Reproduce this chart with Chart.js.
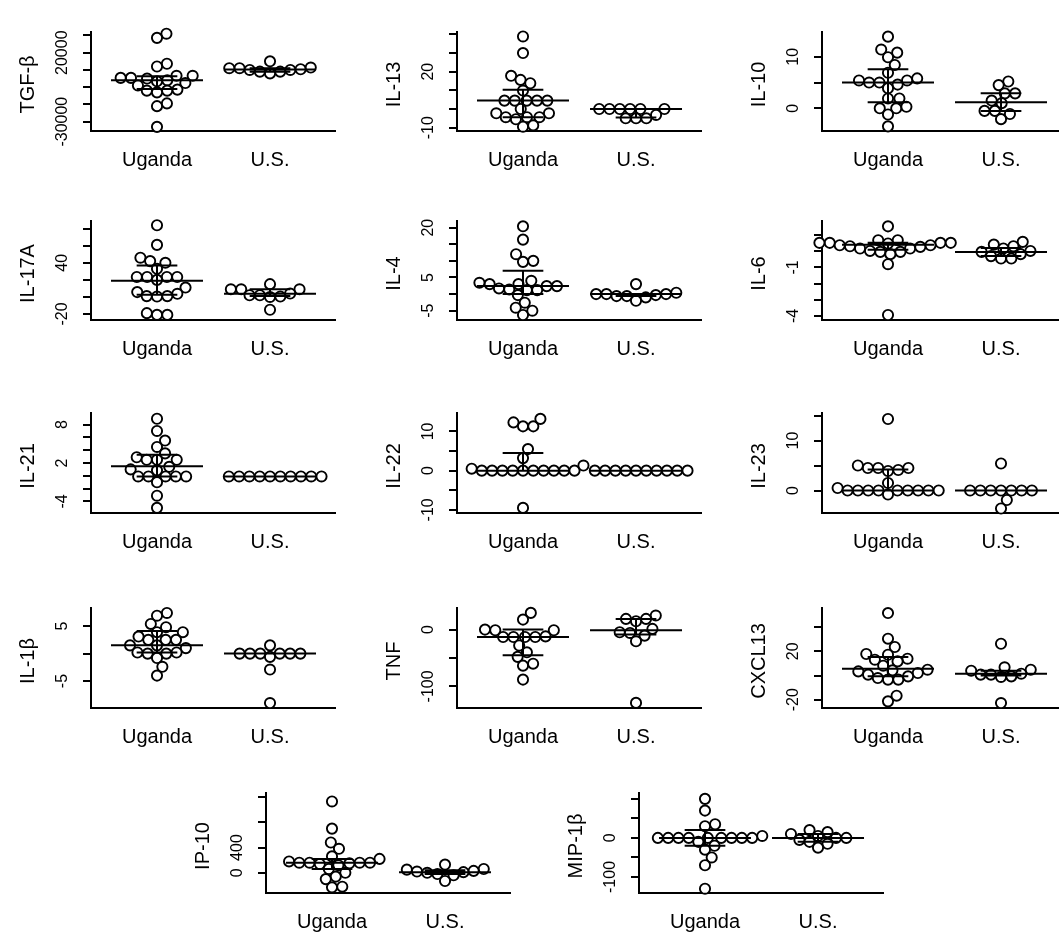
<!DOCTYPE html>
<html>
<head>
<meta charset="utf-8">
<script src="https://cdn.jsdelivr.net/npm/chart.js@4.4.0/dist/chart.umd.min.js"></script>
<style>
  html, body { margin: 0; padding: 0; background: #fff; }
  #page { position: relative; width: 1059px; height: 933px; overflow: hidden; }
  #page canvas { position: absolute; }
</style>
</head>
<body>
<div id="page"></div>
<script>
const groups = ['Uganda', 'U.S.'];
const cytokines = ['TGF-β', 'IL-13', 'IL-10', 'IL-17A', 'IL-4', 'IL-6', 'IL-21',
                   'IL-22', 'IL-23', 'IL-1β', 'TNF', 'CXCL13', 'IP-10', 'MIP-1β'];

// values, one array per group and cytokine
const tgfUganda = [33750, 30750, 12000, 10000, 3250, 3250, 1750, 1750, 1250, 0, -750, -2000,
                   -3750, -6750, -7500, -7500, -8750, -16750, -18750, -33750];
const tgfUS = [8750, 8750, 7500, 6250, 13750, 5000, 6250, 7500, 8000, 9250];
const il13Uganda = [38.9, 30, 17.8, 15.6, 13.8, 9.9, 4.5, 4.5, 4.5, 4.5, 4.5, 0, -2.3, -2.3,
                    -4.4, -4.4, -5.5, -4.4, -9.5, -8.8];
const il13US = [0, 0, 0, 0, 0, 0, -5, -5, -5, -3.2];
const il10Uganda = [13.9, 11.4, 10.8, 9.9, 8.4, 6.9, 5.8, 5.4, 5.0, 5.0, 5.4, 4.6, 3.9, 1.9,
                    1.9, 0, 0, 0.3, -1.2, -3.5];
const il10US = [5.2, 4.5, 2.9, 2.9, 1.5, 1.0, -0.5, -0.5, -1.1, -2.1];
const il17Uganda = [84, 61, 46, 42, 40, 33, 23.4, 23.4, 23.4, 23.4, 20, 11, 5.7, 1, 0.5, 1,
                    3.7, -19, -21, -21];
const il17US = [15, 9, 9, 9, 4, 2, 0, 2, 0.5, -15];
const il4Uganda = [20.4, 16.4, 12, 10, 9.7, 4, 3, 3, 2.4, 1.2, 1.4, 1.7, 2.4, 3.4, -0.3, -2.6,
                   -4.1, -6.3, -5, 1.2];
const il4US = [3, 0, 0, -0.6, -0.6, -2, -1, -0.3, 0, 0.4];
const il6Uganda = [1.54, 0.52, 0.48, 0.37, 0.17, 0.17, 0.68, 0.52, 0.52, 0.31, 0.27, 0.37,
                   0.52, 0.68, -0.04, -0.04, 0.02, -0.18, -0.8, -3.94];
const il6US = [0.58, 0.41, 0.31, 0.17, -0.04, 0.02, -0.3, -0.45, -0.45, -0.18];
const il21Uganda = [8.9, 7, 5.5, 4.5, 3.5, 2.9, 2.5, 2.5, 2.5, 1.4, 1.0, 0.85, -0.1, -0.1,
                    -0.1, -0.1, -0.1, -1.0, -3.1, -5];
const il21US = [-0.1, -0.1, -0.1, -0.1, -0.1, -0.1, -0.1, -0.1, -0.1, -0.1];
const il22Uganda = [12.3, 11.3, 11.3, 13.2, 5.5, 3.2, 0.5, 0, 0, 0, 0, 0, 0, 0, 0, 0, 0, 1.3, -9.5];
const il22US = [0, 0, 0, 0, 0, 0, 0, 0, 0, 0];
const il23Uganda = [14.3, 4.5, 4.5, 4.1, 3.9, 4.5, 5.0, 1.5, 0.5, 0, 0, 0, 0, 0, 0, 0, 0, 0, -0.8];
const il23US = [5.4, 0, 0, 0, 0, 0, 0, 0, -1.9, -3.6];
const il1bUganda = [7.4, 6.9, 5.4, 4.8, 3.9, 3.9, 2.5, 2.5, 2.5, 3.1, 1.5, 1.5, 1.0, 0.2, 0.2,
                    0, 0, -0.8, -2.4, -4];
const il1bUS = [1.5, 0, 0, 0, 0, 0, 0, -0.6, -2.9, -9];
const tnfUganda = [29.4, 17.6, -1.2, 0, -1.2, -13, -13, -13, -13, -12, -28, -40, -48, -63.5, -60, -88];
const tnfUS = [24.7, 18.8, 18.8, 14.7, 1.2, -4.7, -5.9, -10.6, -20.6, -129];
const cxclUganda = [51.7, 30.5, 23.6, 17.2, 13.9, 17.8, 13.1, 11.7, 8.1, 3.4, 0.7, 4.3, 4.8, 2.1,
                    -3.4, -3.4, -2.1, -0.7, -21.4, -16.7];
const cxclUS = [26.3, 4, 4.8, 6.8, 0.7, 0.7, -0.7, 1.5, -1.2, -22.8];
const ip10Uganda = [1130, 700, 480, 380, 260, 220, 180, 160, 160, 160, 160, 150, 140, 120, 60, 0,
                    -60, -100, -220, -230];
const ip10US = [130, 60, 50, 30, 20, 10, 0, -20, -40, -130];
const mipUganda = [100, 70, 35, 30, 5, 0, 0, 0, 0, 0, 0, 0, 0, 0, -10, -20, -30, -50, -70, -130];
const mipUS = [20, 15, 10, 5, 0, 0, -5, -10, -15, -25];

// long bar = median, short bars = quartiles
const ugandaMedian = [0, 4.5, 5.0, 19, 2.4, 0.4, 1.5, 0, 0, 1.5, -13, 5.7, 160, 0];
const ugandaQ1 = [-6250, -4.4, 1.2, 2.5, 0, 0.1, -0.1, 0, 0, 0.2, -45, -0.7, 60, -20];
const ugandaQ3 = [3000, 10.3, 7.6, 37, 7, 0.52, 3.3, 4.5, 4.2, 4.1, 0, 15.3, 220, 20];
const usMedian = [7750, 0, 1.2, 3.7, 0, -0.04, -0.1, 0, 0, 0, -1.2, 1.5, 10, 0];
const usQ1 = [6250, -4.5, -0.5, 1, -0.6, -0.3, -0.1, 0, 0, 0, -8.8, 0, -20, -10];
const usQ3 = [8750, 0, 2.9, 9, 0, 0.2, -0.1, 0, 0, 0, 18.8, 4, 40, 10];

// y axes
const yMin = [-36750, -11.8, -4.4, -27, -7.8, -4.25, -5.8, -10.8, -4.5, -9.9, -138, -26.9, -320, -141];
const yMax = [35000, 41.3, 14.8, 89, 22, 1.87, 9.8, 14.7, 15.5, 8.3, 38, 55.9, 1264, 115];
const yTicks = [
  [-30000, -17500, -5000, 7500, 20000, 32500], [-10, 0, 10, 20, 30, 40], [0, 5, 10],
  [-20, 0, 20, 40, 60, 80], [-5, 0, 5, 10, 15, 20], [-4, -3, -2, -1, 0, 1],
  [-4, -2, 0, 2, 4, 6, 8], [-10, -5, 0, 5, 10], [0, 5, 10, 15],
  [-5, 0, 5], [-100, -50, 0], [-20, 0, 20, 40], [0, 400, 800, 1200], [-100, -50, 0, 50, 100]
];
const yLabels = [
  [20000, -30000], [20, -10], [10, 0], [40, -20], [20, 5, -5], [-1, -4], [8, 2, -4],
  [10, 0, -10], [10, 0], [5, -5], [0, -100], [20, -20], [400, 0], [0, -100]
];

const ugandaValues = [tgfUganda, il13Uganda, il10Uganda, il17Uganda, il4Uganda, il6Uganda, il21Uganda,
                      il22Uganda, il23Uganda, il1bUganda, tnfUganda, cxclUganda, ip10Uganda, mipUganda];
const usValues = [tgfUS, il13US, il10US, il17US, il4US, il6US, il21US,
                  il22US, il23US, il1bUS, tnfUS, cxclUS, ip10US, mipUS];

// panel placement on the page (left edge of plot, top and bottom of plot)
const rowTop = [32, 221, 413, 608, 793];
const rowBottom = [131, 320, 513, 708, 893];
const panelX = [91, 457, 822, 91, 457, 822, 91, 457, 822, 91, 457, 822, 266, 639];
const panelRow = [0, 0, 0, 1, 1, 1, 2, 2, 2, 3, 3, 3, 4, 4];

const plotWidth = 244;
const leftRoom = 90, topRoom = 10, rightRoom = 8, bottomRoom = 50;
const xMin = 0.416, xMax = 2.575;
const dotDiameter = 10.3;

Chart.defaults.font.family = '"Liberation Sans", Arial, sans-serif';
Chart.defaults.color = '#000';

const axisText = {
  id: 'axisText',
  afterDraw(chart, args, opts) {
    const {ctx, chartArea} = chart;
    const y = chart.scales.y;
    ctx.save();
    ctx.fillStyle = '#000';
    ctx.textAlign = 'center';
    ctx.textBaseline = 'middle';
    ctx.font = '16px "Liberation Sans", Arial, sans-serif';
    opts.labels.forEach(v => {
      ctx.save();
      ctx.translate(chartArea.left - 28, y.getPixelForValue(v));
      ctx.rotate(-Math.PI / 2);
      ctx.fillText(String(v), 0, 0);
      ctx.restore();
    });
    ctx.font = '20px "Liberation Sans", Arial, sans-serif';
    ctx.translate(chartArea.left - 63, (chartArea.top + chartArea.bottom) / 2 + 3);
    ctx.rotate(-Math.PI / 2);
    ctx.fillText(opts.title, 0, 0);
    ctx.restore();
  }
};

// simple swarm: place each value (ascending) at the offset closest to the centre that does not overlap
function swarm(chart, center, values) {
  const xs = chart.scales.x, ys = chart.scales.y;
  const pxPerUnit = xs.getPixelForValue(center + 1) - xs.getPixelForValue(center);
  const order = values.map((v, i) => i).sort((a, b) => values[a] - values[b]);
  const placed = [];
  const out = new Array(values.length);
  const d2 = dotDiameter * dotDiameter;
  order.forEach(i => {
    const py = ys.getPixelForValue(values[i]);
    const cands = [0];
    placed.forEach(p => {
      const dy = Math.abs(p.y - py);
      if (dy < dotDiameter) {
        const dx = Math.sqrt(d2 - dy * dy);
        cands.push(p.x + dx, p.x - dx);
      }
    });
    cands.sort((a, b) => Math.abs(a) - Math.abs(b));
    let best = 0;
    for (const c of cands) {
      if (placed.every(p => (p.x - c) ** 2 + (p.y - py) ** 2 >= d2 - 0.01)) { best = c; break; }
    }
    placed.push({x: best, y: py});
    out[i] = {x: center + best / pxPerUnit, y: values[i]};
  });
  return out;
}

function summaryLines(c, med, q1, q3) {
  return [
    {x: c - 0.407, y: med}, {x: c + 0.407, y: med}, {x: c, y: null},
    {x: c - 0.18, y: q3}, {x: c + 0.18, y: q3}, {x: c, y: null},
    {x: c - 0.18, y: q1}, {x: c + 0.18, y: q1}, {x: c, y: null},
    {x: c, y: q1}, {x: c, y: q3}
  ];
}

function dots(values, center) {
  return {
    data: values.map(v => ({x: center, y: v})),
    pointRadius: 5.1,
    pointBorderWidth: 1.9,
    pointBorderColor: '#000',
    pointBackgroundColor: '#fff',
    clip: false,
    order: 2
  };
}

function bars(data) {
  return {
    data: data,
    showLine: true,
    spanGaps: false,
    pointRadius: 0,
    borderColor: '#000',
    borderWidth: 2,
    clip: false,
    order: 0
  };
}

const page = document.getElementById('page');

cytokines.forEach((name, i) => {
  const r = panelRow[i];
  const h = rowBottom[r] - rowTop[r];
  const canvas = document.createElement('canvas');
  canvas.width = leftRoom + plotWidth + rightRoom;
  canvas.height = topRoom + h + bottomRoom;
  canvas.style.left = (panelX[i] - leftRoom) + 'px';
  canvas.style.top = (rowTop[r] - topRoom) + 'px';
  page.appendChild(canvas);

  const chart = new Chart(canvas, {
    type: 'scatter',
    data: {
      datasets: [
        dots(ugandaValues[i], 1),
        dots(usValues[i], 2),
        bars(summaryLines(1, ugandaMedian[i], ugandaQ1[i], ugandaQ3[i])),
        bars(summaryLines(2, usMedian[i], usQ1[i], usQ3[i]))
      ]
    },
    options: {
      responsive: false,
      animation: false,
      events: [],
      layout: {padding: {left: 0, top: topRoom, right: rightRoom, bottom: 0}},
      plugins: {
        legend: {display: false},
        tooltip: {enabled: false},
        axisText: {title: name, labels: yLabels[i]}
      },
      scales: {
        x: {
          type: 'linear',
          min: xMin,
          max: xMax,
          afterFit: s => { s.height = bottomRoom; },
          afterBuildTicks: s => { s.ticks = [{value: 1}, {value: 2}]; },
          grid: {display: false, drawTicks: false},
          border: {display: true, color: '#000', width: 2},
          ticks: {
            callback: v => groups[v - 1],
            color: '#000',
            font: {size: 20},
            padding: 17,
            maxRotation: 0,
            autoSkip: false
          }
        },
        y: {
          type: 'linear',
          min: yMin[i],
          max: yMax[i],
          afterFit: s => { s.width = leftRoom; },
          afterBuildTicks: s => { s.ticks = yTicks[i].map(v => ({value: v})); },
          grid: {display: true, drawOnChartArea: false, drawTicks: true, tickLength: 8, color: '#000', lineWidth: 2},
          border: {display: true, color: '#000', width: 2},
          ticks: {display: false}
        }
      }
    },
    plugins: [axisText]
  });

  chart.data.datasets[0].data = swarm(chart, 1, ugandaValues[i]);
  chart.data.datasets[1].data = swarm(chart, 2, usValues[i]);
  chart.update('none');
});
</script>
</body>
</html>
